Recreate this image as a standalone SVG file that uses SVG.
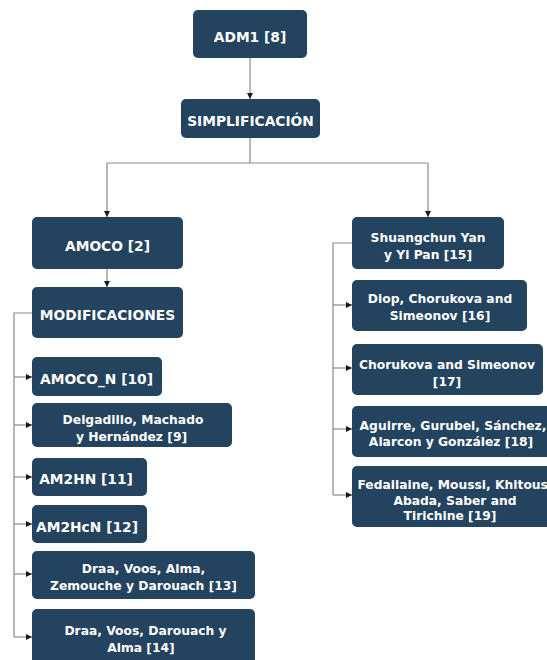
<svg xmlns="http://www.w3.org/2000/svg" width="547" height="660" viewBox="0 0 547 660">
<style>
.box{fill:#23435e;}
.t{fill:#ffffff;font-family:"DejaVu Sans","Verdana",sans-serif;font-weight:bold;text-anchor:middle;}
.c{font-size:13.8px;}
.m{font-size:12.3px;}
.ln{fill:none;stroke:#8a8a8a;stroke-width:1.2;}
</style>
<defs>
<marker id="ah" markerUnits="userSpaceOnUse" markerWidth="7" markerHeight="7" refX="6" refY="3" orient="auto">
<path d="M0,0 L6,3 L0,6 z" fill="#1a1a1a"/>
</marker>
</defs>
<g id="connectors">
<path class="ln" d="M250,58 V99" marker-end="url(#ah)"/>
<path class="ln" d="M250,138 V163 M107,163 H428"/>
<path class="ln" d="M107,163 V217" marker-end="url(#ah)"/>
<path class="ln" d="M428,163 V217" marker-end="url(#ah)"/>
<path class="ln" d="M107,269 V287" marker-end="url(#ah)"/>
<path class="ln" d="M32,313 H14 V637"/>
<path class="ln" d="M14,377 H32" marker-end="url(#ah)"/>
<path class="ln" d="M14,425 H32" marker-end="url(#ah)"/>
<path class="ln" d="M14,477 H32" marker-end="url(#ah)"/>
<path class="ln" d="M14,524 H32" marker-end="url(#ah)"/>
<path class="ln" d="M14,574 H32" marker-end="url(#ah)"/>
<path class="ln" d="M14,637 H32" marker-end="url(#ah)"/>
<path class="ln" d="M352,243 H333 V495"/>
<path class="ln" d="M333,305 H352" marker-end="url(#ah)"/>
<path class="ln" d="M333,368 H352" marker-end="url(#ah)"/>
<path class="ln" d="M333,429 H352" marker-end="url(#ah)"/>
<path class="ln" d="M333,495 H352" marker-end="url(#ah)"/>
</g>
<g id="adm1">
<rect class="box" x="193" y="10" width="114" height="48" rx="5"/>
<text class="t c" x="250" y="41.5">ADM1 [8]</text>
</g>
<g id="simplificacion">
<rect class="box" x="181" y="99" width="139" height="39" rx="5"/>
<text class="t c" x="250.5" y="126">SIMPLIFICACIÓN</text>
</g>
<g id="amoco">
<rect class="box" x="32" y="217" width="151" height="52" rx="5"/>
<text class="t c" x="107.5" y="250.5">AMOCO [2]</text>
</g>
<g id="modificaciones">
<rect class="box" x="32" y="287" width="151" height="51" rx="5"/>
<text class="t c" x="107.5" y="320">MODIFICACIONES</text>
</g>
<g id="amoco_n">
<rect class="box" x="32" y="357" width="130" height="39" rx="5"/>
<text class="t c" x="96.5" y="384">AMOCO_N [10]</text>
</g>
<g id="delgadillo">
<rect class="box" x="32" y="403" width="200" height="44" rx="5"/>
<text class="t m" x="132" y="424"><tspan x="133">Delgadillo, Machado</tspan><tspan x="131.5" dy="17">y Hernández [9]</tspan></text>
</g>
<g id="am2hn">
<rect class="box" x="32" y="458" width="115" height="38" rx="5"/>
<text class="t c" x="86" y="484">AM2HN [11]</text>
</g>
<g id="am2hcn">
<rect class="box" x="32" y="505" width="115" height="38" rx="5"/>
<text class="t c" x="87" y="531.5">AM2HcN [12]</text>
</g>
<g id="draa13">
<rect class="box" x="32" y="551" width="223" height="48" rx="5"/>
<text class="t m" x="143.5" y="573"><tspan x="143.5">Draa, Voos, Alma,</tspan><tspan x="143.5" dy="16.5">Zemouche y Darouach [13]</tspan></text>
</g>
<g id="draa14">
<rect class="box" x="32" y="609" width="223" height="56" rx="5"/>
<text class="t m" x="145.5" y="635"><tspan x="145.5">Draa, Voos, Darouach y</tspan><tspan x="141" dy="17">Alma [14]</tspan></text>
</g>
<g id="shuangchun">
<rect class="box" x="352" y="217" width="152" height="52" rx="5"/>
<text class="t m" x="428" y="241.5"><tspan x="428">Shuangchun Yan</tspan><tspan x="428" dy="17">y Yi Pan [15]</tspan></text>
</g>
<g id="diop">
<rect class="box" x="352" y="280" width="175" height="51" rx="5"/>
<text class="t m" x="440" y="303"><tspan x="440">Diop, Chorukova and</tspan><tspan x="440" dy="17">Simeonov [16]</tspan></text>
</g>
<g id="chorukova">
<rect class="box" x="352" y="344" width="191" height="51" rx="5"/>
<text class="t m" x="447" y="369"><tspan x="447">Chorukova and Simeonov</tspan><tspan x="447" dy="17">[17]</tspan></text>
</g>
<g id="aguirre">
<rect class="box" x="352" y="406" width="202" height="51" rx="5"/>
<text class="t m" x="453" y="429.5"><tspan x="453">Aguirre, Gurubel, Sánchez,</tspan><tspan x="451" dy="16">Alarcon y González [18]</tspan></text>
</g>
<g id="fedailaine">
<rect class="box" x="352" y="466" width="204" height="61" rx="5"/>
<text class="t m" x="455" y="489"><tspan x="455">Fedailaine, Moussi, Khitous,</tspan><tspan x="455" dy="15.5">Abada, Saber and</tspan><tspan x="450" dy="15.5">Tirichine [19]</tspan></text>
</g>
</svg>
